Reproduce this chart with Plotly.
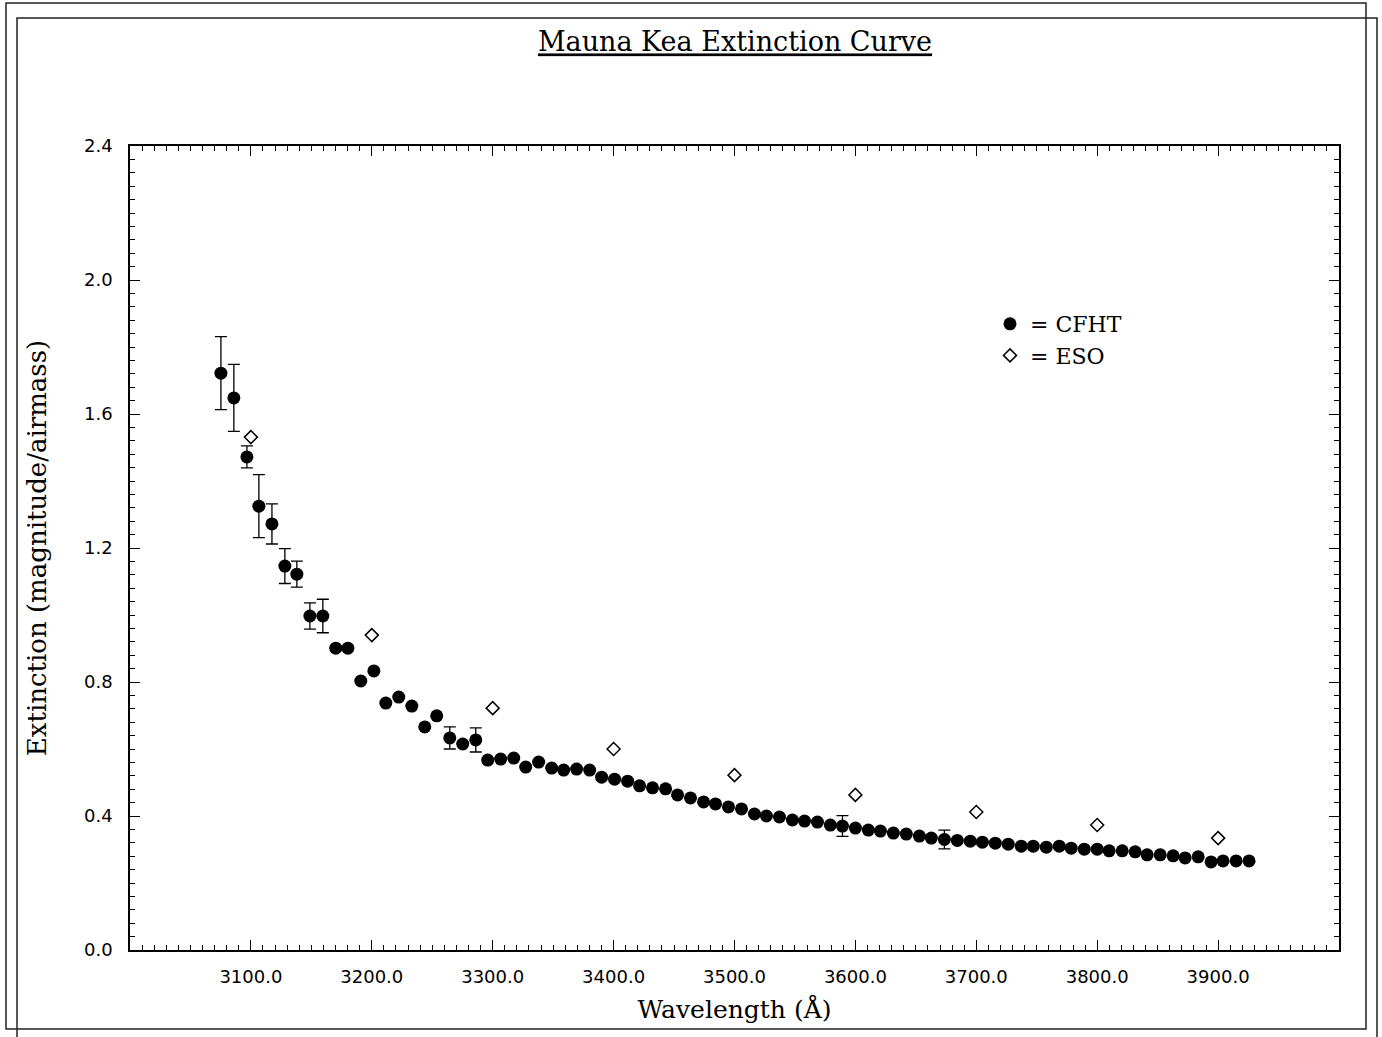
import plotly.graph_objects as go

# CFHT measurements (wavelength in Angstrom, extinction in mag/airmass)
cfht_wave = [3075.2, 3085.9, 3096.7, 3106.6, 3117.4, 3128.1, 3138.0, 3148.8, 3159.5, 3170.2,
             3180.2, 3190.9, 3201.7, 3211.6, 3222.3, 3233.1, 3243.8, 3253.7, 3264.5, 3275.2,
             3286.0, 3295.9, 3306.6, 3317.4, 3327.3, 3338.0, 3348.8, 3358.7, 3369.4, 3380.2,
             3390.1, 3400.8, 3411.6, 3421.5, 3432.2, 3443.0, 3452.9, 3463.6, 3474.4, 3484.3,
             3495.0, 3505.8, 3516.5, 3526.4, 3537.2, 3547.9, 3557.9, 3568.6, 3579.3, 3589.3,
             3600.0, 3610.7, 3620.7, 3631.4, 3642.1, 3652.9, 3662.8, 3673.6, 3684.3, 3695.0,
             3705.0, 3715.7, 3726.4, 3737.2, 3747.1, 3757.9, 3768.6, 3778.5, 3789.3, 3800.0,
             3809.9, 3820.7, 3831.4, 3841.3, 3852.1, 3862.8, 3872.7, 3883.5, 3894.2, 3904.1,
             3914.9, 3925.6]
cfht_ext = [1.722, 1.648, 1.472, 1.325, 1.272, 1.146, 1.122, 0.997, 0.997, 0.901,
            0.901, 0.803, 0.833, 0.737, 0.755, 0.728, 0.666, 0.699, 0.633, 0.615,
            0.627, 0.567, 0.570, 0.573, 0.546, 0.561, 0.543, 0.537, 0.540, 0.537,
            0.516, 0.510, 0.504, 0.490, 0.484, 0.481, 0.463, 0.454, 0.442, 0.436,
            0.427, 0.421, 0.406, 0.400, 0.397, 0.388, 0.385, 0.382, 0.373, 0.370,
            0.364, 0.358, 0.355, 0.349, 0.346, 0.340, 0.334, 0.330, 0.327, 0.325,
            0.322, 0.319, 0.316, 0.310, 0.310, 0.307, 0.310, 0.304, 0.301, 0.301,
            0.296, 0.296, 0.293, 0.284, 0.284, 0.281, 0.275, 0.278, 0.263, 0.266,
            0.266, 0.266]
N = None
cfht_err = [0.109, 0.100, 0.033, 0.094, 0.060, 0.052, 0.039, 0.039, 0.050, N,
            N, N, N, N, N, N, N, N, 0.033, N,
            0.036, N, N, N, N, N, N, N, N, N,
            N, N, N, N, N, N, N, N, N, N,
            N, N, N, N, N, N, N, N, N, 0.031,
            N, N, N, N, N, N, N, 0.028, N, N,
            N, N, N, N, N, N, N, N, N, N,
            N, N, N, N, N, N, N, N, N, N,
            N, N]

# ESO measurements
eso_wave = [3100, 3200, 3300, 3400, 3500, 3600, 3700, 3800, 3900]
eso_ext = [1.531, 0.940, 0.722, 0.600, 0.522, 0.463, 0.412, 0.373, 0.334]

x_ticks = [3100, 3200, 3300, 3400, 3500, 3600, 3700, 3800, 3900]
y_ticks = [0.0, 0.4, 0.8, 1.2, 1.6, 2.0, 2.4]

W, H = 1382, 1037
ML, MR, MT, MB = 130, 43, 146, 87
PW, PH = W - ML - MR, H - MT - MB

def px(x):
    return (x - ML) / PW

def py(y):
    return (H - MB - y) / PH

fig = go.Figure()
fig.add_trace(go.Scatter(
    x=cfht_wave, y=cfht_ext, mode="markers", name="= CFHT",
    marker=dict(symbol="circle", size=13, color="black"),
    error_y=dict(type="data", array=cfht_err, visible=True, color="black",
                 thickness=1.3, width=6),
))
fig.add_trace(go.Scatter(
    x=eso_wave, y=eso_ext, mode="markers", name="= ESO",
    marker=dict(symbol="diamond-open", size=10, color="black", line=dict(width=1.5)),
))

serif = "DejaVu Serif"
sans = "DejaVu Sans"

fig.update_layout(
    width=W, height=H,
    margin=dict(l=ML, r=MR, t=MT, b=MB),
    paper_bgcolor="white", plot_bgcolor="white",
    title=dict(text="<u>Mauna Kea Extinction Curve</u>", xref="paper", x=px(735), xanchor="center",
               y=1 - 42 / H, yanchor="middle",
               font=dict(family=serif, size=27, color="black")),
    showlegend=True,
    legend=dict(x=px(990), y=py(303), xanchor="left", yanchor="top",
                bgcolor="rgba(0,0,0,0)", font=dict(family=serif, size=22, color="black"),
                tracegroupgap=0, itemsizing="trace"),
    font=dict(family=sans, color="black"),
)

fig.update_xaxes(
    range=[3000, 4000], tickvals=x_ticks, tickformat=".1f",
    ticks="inside", ticklen=10, tickwidth=1.3, tickcolor="black",
    minor=dict(dtick=10, ticks="inside", ticklen=5, tickwidth=1, tickcolor="black"),
    showline=True, linecolor="black", linewidth=1.5, mirror="allticks",
    showgrid=False, zeroline=False,
    tickfont=dict(family=sans, size=18, color="black"), ticklabelstandoff=10,
    title=dict(text="Wavelength (Å)", font=dict(family=serif, size=25, color="black"), standoff=14),
    automargin=False,
)
fig.update_yaxes(
    range=[0, 2.4], tickvals=y_ticks, tickformat=".1f",
    ticks="inside", ticklen=10, tickwidth=1.3, tickcolor="black",
    minor=dict(dtick=0.04, ticks="inside", ticklen=5, tickwidth=1, tickcolor="black"),
    showline=True, linecolor="black", linewidth=1.5, mirror="allticks",
    showgrid=False, zeroline=False,
    tickfont=dict(family=sans, size=18, color="black"), ticklabelstandoff=12,
    title=dict(text="Extinction (magnitude/airmass)", font=dict(family=serif, size=26, color="black"), standoff=30),
    automargin=False,
)

# page frame lines (scanned page border)
frame_line = dict(color="#222", width=1.5)
fig.add_shape(type="rect", xref="paper", yref="paper",
              x0=px(6), x1=px(1366), y0=py(1029), y1=py(3), line=frame_line)
fig.add_shape(type="rect", xref="paper", yref="paper",
              x0=px(17), x1=px(1377), y0=py(1045), y1=py(18), line=frame_line)

fig.write_html("out.html", config={"displayModeBar": False},
               post_script="document.body.style.margin='0px';")
